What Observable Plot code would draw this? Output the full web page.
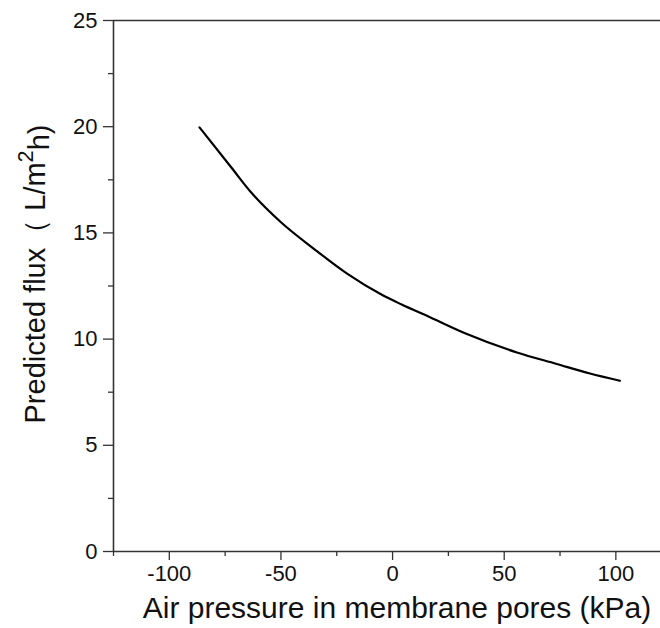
<!DOCTYPE html>
<html>
<head>
<meta charset="utf-8">
<script src="https://cdn.jsdelivr.net/npm/d3@7"></script>
<script src="https://cdn.jsdelivr.net/npm/@observablehq/plot@0.6"></script>
<style>
  html, body { margin: 0; padding: 0; background: #fff; }
</style>
</head>
<body>
<div id="chart"></div>
<script>
const pressure = [-86.5, -72.3, -63.4, -50.0, -35.1, -20.2, -5.4, 3.6, 17.0, 33.3, 55.7, 73.5, 88.4, 101.8];
const flux = [19.97, 18.09, 16.91, 15.50, 14.24, 13.07, 12.12, 11.65, 11.02, 10.24, 9.37, 8.83, 8.38, 8.04];
const xMajor = [-100, -50, 0, 50, 100];
const xMinor = [-125, -75, -25, 25, 75];
const yMajor = [0, 5, 10, 15, 20, 25];
const yMinor = [2.5, 7.5, 12.5, 17.5, 22.5];
const xTitle = "Air pressure in membrane pores (kPa)";
const yTitleParts = ["Predicted flux（ L/m", "2", "h)"];
const yTitle = yTitleParts.join("");

const data = pressure.map((p, i) => ({p, f: flux[i]}));
const axisColor = "#333";
const fmt = d => String(d);

const chart = Plot.plot({
  width: 660,
  height: 628,
  marginLeft: 113,
  marginRight: 0,
  marginTop: 20,
  marginBottom: 77,
  x: {domain: [-125, 120]},
  y: {domain: [0, 25]},
  style: {fontFamily: "'Liberation Sans', Arial, sans-serif", background: "#fff", color: "#111", fontSize: "22px"},
  marks: [
    Plot.axisY({ticks: yMajor, tickFormat: fmt, tickSize: 10, tickPadding: 6, fontSize: 22, label: null, stroke: axisColor, strokeWidth: 1.3}),
    Plot.axisY({ticks: yMinor, tickSize: 5, text: null, label: null, stroke: axisColor, strokeWidth: 1.3}),
    Plot.axisX({ticks: xMajor, tickFormat: fmt, tickSize: 9, tickPadding: 5, fontSize: 22, label: null, stroke: axisColor, strokeWidth: 1.3}),
    Plot.axisX({ticks: xMinor, tickSize: 5, text: null, label: null, stroke: axisColor, strokeWidth: 1.3}),
    Plot.ruleX([-125], {stroke: axisColor, strokeWidth: 1.6}),
    Plot.ruleY([0], {stroke: axisColor, strokeWidth: 1.6}),
    Plot.ruleY([25], {stroke: axisColor, strokeWidth: 1.6}),
    Plot.line(data, {x: "p", y: "f", curve: "monotone-x", stroke: "#000", strokeWidth: 2.2}),
    Plot.text([xTitle], {frameAnchor: "bottom", textAnchor: "middle", dx: 10, dy: 57, lineAnchor: "middle", fontSize: 30, fill: "#111"}),
    Plot.text([yTitle], {frameAnchor: "left", textAnchor: "middle", rotate: -90, dx: -78, dy: -12, lineAnchor: "middle", fontSize: 29, fill: "#111"})
  ]
});

// superscript the "2" in the y title
d3.select(chart).selectAll("text").filter(function() { return this.textContent === yTitle; }).each(function() {
  const t = d3.select(this);
  t.text(null);
  t.append("tspan").text(yTitleParts[0]);
  t.append("tspan").attr("dy", "-0.55em").attr("font-size", "0.75em").text(yTitleParts[1]);
  t.append("tspan").attr("dy", "0.55em").text(yTitleParts[2]);
});

document.getElementById("chart").appendChild(chart);
</script>
</body>
</html>
